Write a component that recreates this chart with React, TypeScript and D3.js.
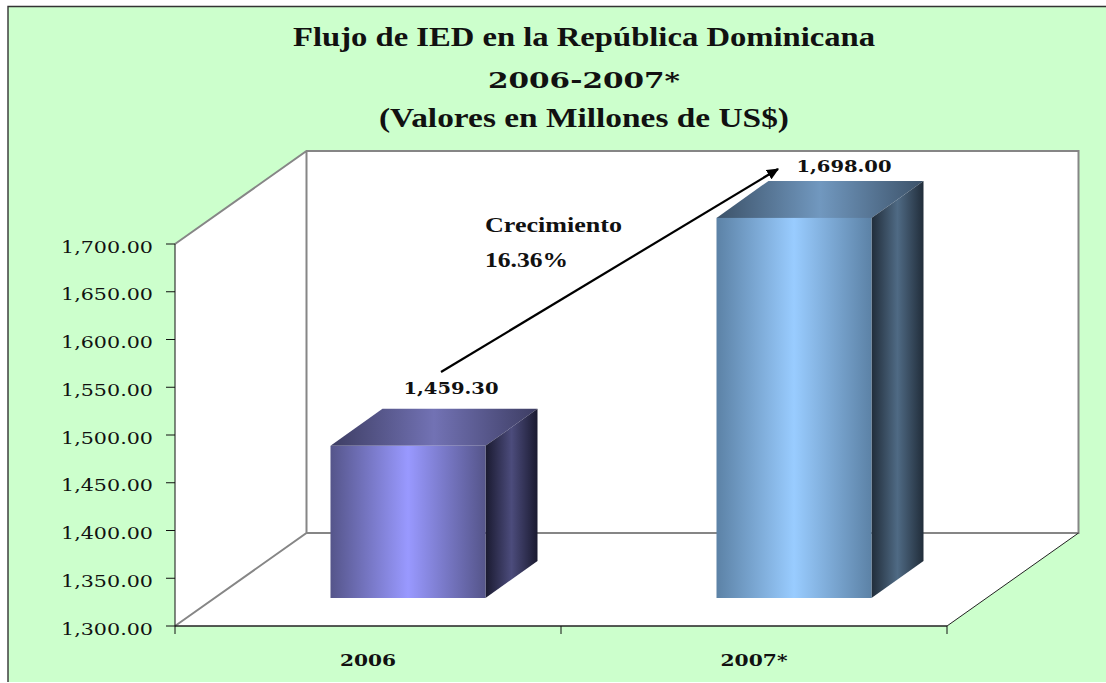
import React from "react";
import * as d3 from "d3";

const categories = ["2006", "2007*"];
const values = [1459.3, 1698.0];
const valueLabels = ["1,459.30", "1,698.00"];
const labelShift = [43, 50];
const labelRise = [15, 9];
const yTicks = [1300, 1350, 1400, 1450, 1500, 1550, 1600, 1650, 1700];
const titleLines = ["Flujo de IED en la República Dominicana", "2006-2007*", "(Valores en Millones de US$)"];
const titleWidths = [582, 192, 410];
const noteLines = ["Crecimiento", "16.36%"];

const palettes = [
  { front: ["#55558a", "#9999ff", "#55558a"], top: ["#3d3d63", "#7272b4", "#3d3d63"], side: ["#1a1a30", "#4c4c7c", "#1a1a30"] },
  { front: ["#5c82a6", "#99ccff", "#5c82a6"], top: ["#3c5269", "#7198bf", "#3c5269"], side: ["#212d3a", "#4f6a84", "#212d3a"] },
];

const SERIF = "'Liberation Serif', serif";
const WIDE = "'DejaVu Serif', serif";

export default function App() {
  const x = d3.scaleBand<string>().domain(categories).range([175, 947]);
  const y = d3.scaleLinear().domain([1300, 1700]).range([626, 244]);
  const wallDx = 131.5, wallDy = -93;
  const barDx = 52, barDy = -37;
  const barLift = 28, barInset = 155.5, barW = 155;
  const fmt = d3.format(",.2f");
  const left = x.range()[0], right = x.range()[1];
  const top = y(1700), bottom = y(1300);

  return (
    <svg width={1106} height={683} style={{ position: "absolute", left: 0, top: 0, display: "block" }}>
      <defs>
        {palettes.flatMap((p, i) =>
          (["front", "top", "side"] as const).map((k) => (
            <linearGradient key={k + i} id={`${k}${i}`} x1="0" x2="1" y1="0" y2="0">
              <stop offset="0" stopColor={p[k][0]} />
              <stop offset="0.5" stopColor={p[k][1]} />
              <stop offset="1" stopColor={p[k][2]} />
            </linearGradient>
          ))
        )}
        <marker id="arrow" viewBox="0 0 10 10" refX="9" refY="5" markerWidth="5.5" markerHeight="5.5" orient="auto">
          <path d="M0,0.5 L10,5 L0,9.5 Z" fill="#000" />
        </marker>
      </defs>
      <rect x={8} y={6.5} width={1098} height={675.5} fill="#ccffcc" />
      <path d="M8,682 L8,6.5 L1106,6.5" fill="none" stroke="#333" strokeWidth={1.4} />

      <polygon
        points={`${left},${top} ${left + wallDx},${top + wallDy} ${right + wallDx},${top + wallDy} ${right + wallDx},${bottom + wallDy} ${right},${bottom} ${left},${bottom}`}
        fill="#fff"
      />
      <path
        d={`M${left},${top} L${left + wallDx},${top + wallDy} L${right + wallDx},${top + wallDy} L${right + wallDx},${bottom + wallDy} L${left + wallDx},${bottom + wallDy} L${left},${bottom} M${left + wallDx},${top + wallDy} L${left + wallDx},${bottom + wallDy}`}
        fill="none"
        stroke="#868686"
        strokeWidth={2}
      />
      <line x1={right} y1={bottom} x2={right + wallDx} y2={bottom + wallDy} stroke="#222" strokeWidth={1} />

      <line x1={left} y1={top} x2={left} y2={bottom} stroke="#111" strokeWidth={1} />
      <line x1={left} y1={bottom} x2={right} y2={bottom} stroke="#222" strokeWidth={1.4} />
      {yTicks.map((t) => (
        <g key={t}>
          <line x1={left - 9} x2={left} y1={y(t)} y2={y(t)} stroke="#111" strokeWidth={1} />
          <text x={153} y={y(t) + 8.5} textAnchor="end" fontFamily={WIDE} fontSize={17} fill="#111" textLength={92} lengthAdjust="spacingAndGlyphs">
            {fmt(t)}
          </text>
        </g>
      ))}
      {[left, left + x.bandwidth(), right].map((t) => (
        <line key={t} x1={t} x2={t} y1={bottom} y2={bottom + 8} stroke="#111" strokeWidth={1} />
      ))}

      {categories.map((c, i) => {
        const bx = (x(c) as number) + barInset;
        const yt = y(values[i]) - barLift;
        const yb = y(1300) - barLift;
        return (
          <g key={c}>
            <polygon points={`${bx},${yt} ${bx + barDx},${yt + barDy} ${bx + barW + barDx},${yt + barDy} ${bx + barW},${yt}`} fill={`url(#top${i})`} />
            <polygon points={`${bx + barW},${yt} ${bx + barW + barDx},${yt + barDy} ${bx + barW + barDx},${yb + barDy} ${bx + barW},${yb}`} fill={`url(#side${i})`} />
            <rect x={bx} y={yt} width={barW} height={yb - yt} fill={`url(#front${i})`} />
            <text x={bx + barW / 2 + labelShift[i]} y={yt + barDy - labelRise[i]} textAnchor="middle" fontFamily={WIDE} fontWeight="bold" fontSize={17} fill="#111" textLength={95} lengthAdjust="spacingAndGlyphs">
              {valueLabels[i]}
            </text>
            <text x={(x(c) as number) + x.bandwidth() / 2} y={666} textAnchor="middle" fontFamily={WIDE} fontWeight="bold" fontSize={17} fill="#111" textLength={i === 0 ? 56 : 67} lengthAdjust="spacingAndGlyphs">
              {c}
            </text>
          </g>
        );
      })}

      <line x1={441} y1={372} x2={778} y2={169} stroke="#000" strokeWidth={2.2} markerEnd="url(#arrow)" />
      <text x={485} y={232} fontFamily={SERIF} fontWeight="bold" fontSize={22} fill="#111" textLength={137} lengthAdjust="spacingAndGlyphs">{noteLines[0]}</text>
      <text x={485} y={267} fontFamily={SERIF} fontWeight="bold" fontSize={22} fill="#111" textLength={83} lengthAdjust="spacingAndGlyphs">{noteLines[1]}</text>

      {titleLines.map((t, i) => (
        <text key={t} x={584} y={[46, 88, 127][i]} textAnchor="middle" fontFamily={i === 1 ? WIDE : SERIF} fontWeight="bold" fontSize={i === 1 ? 23 : 27} fill="#111" textLength={titleWidths[i]} lengthAdjust="spacingAndGlyphs">
          {t}
        </text>
      ))}
    </svg>
  );
}
